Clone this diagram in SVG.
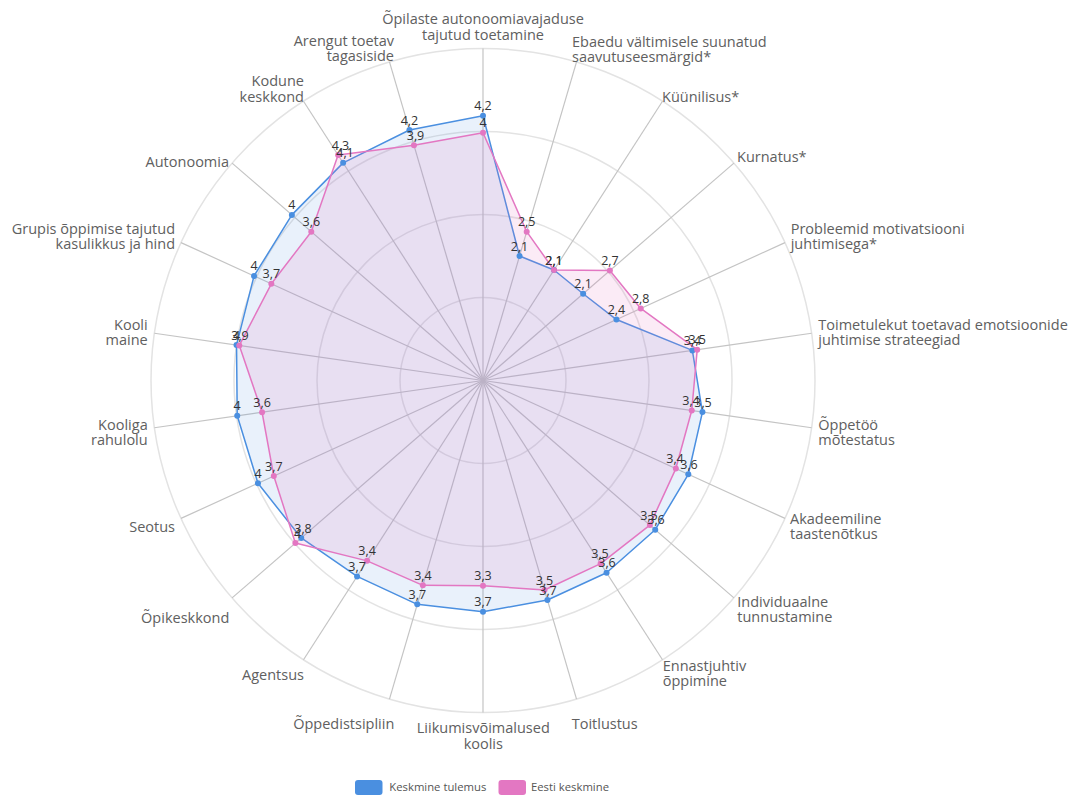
<svg xmlns="http://www.w3.org/2000/svg" width="1078" height="795" viewBox="0 0 1078 795">
<style>
.grid{fill:none;stroke:#e3e3e3;stroke-width:1.5}
.axis{stroke:#c4c4c4;stroke-width:1.2}
.lbl{font-family:"Open Sans","Liberation Sans",sans-serif;font-size:14.5px;fill:#606060}
.val{font-family:"Open Sans","Liberation Sans",sans-serif;font-size:12.5px;fill:#333;text-anchor:middle}
.leg{font-family:"Open Sans","Liberation Sans",sans-serif;font-size:11.3px;fill:#555}
.s{text-anchor:start}.e{text-anchor:end}.m{text-anchor:middle}
.blue{fill:#4a8fe0;fill-opacity:0.12;stroke:#4a8fe0;stroke-width:1.5;stroke-linejoin:round}
.pink{fill:#e377c2;fill-opacity:0.15;stroke:#e377c2;stroke-width:1.5;stroke-linejoin:round}
.bp{fill:#4a8fe0}.pp{fill:#e377c2}
</style>
<rect width="1078" height="795" fill="#fff"/>
<g id="grid">
<circle class="grid" cx="483" cy="380.5" r="83"/>
<circle class="grid" cx="483" cy="380.5" r="166"/>
<circle class="grid" cx="483" cy="380.5" r="249"/>
<circle class="grid" cx="483" cy="380.5" r="332"/>
</g>
<g id="connectors">
<line class="axis" x1="483" y1="380.5" x2="483" y2="48.5"/>
<line class="axis" x1="483" y1="380.5" x2="576.53" y2="61.95"/>
<line class="axis" x1="483" y1="380.5" x2="662.49" y2="101.2"/>
<line class="axis" x1="483" y1="380.5" x2="733.91" y2="163.09"/>
<line class="axis" x1="483" y1="380.5" x2="784.99" y2="242.58"/>
<line class="axis" x1="483" y1="380.5" x2="811.62" y2="333.25"/>
<line class="axis" x1="483" y1="380.5" x2="811.62" y2="427.75"/>
<line class="axis" x1="483" y1="380.5" x2="784.99" y2="518.42"/>
<line class="axis" x1="483" y1="380.5" x2="733.91" y2="597.91"/>
<line class="axis" x1="483" y1="380.5" x2="662.49" y2="659.8"/>
<line class="axis" x1="483" y1="380.5" x2="576.53" y2="699.05"/>
<line class="axis" x1="483" y1="380.5" x2="483" y2="712.5"/>
<line class="axis" x1="483" y1="380.5" x2="389.47" y2="699.05"/>
<line class="axis" x1="483" y1="380.5" x2="303.51" y2="659.8"/>
<line class="axis" x1="483" y1="380.5" x2="232.09" y2="597.91"/>
<line class="axis" x1="483" y1="380.5" x2="181.01" y2="518.42"/>
<line class="axis" x1="483" y1="380.5" x2="154.38" y2="427.75"/>
<line class="axis" x1="483" y1="380.5" x2="154.38" y2="333.25"/>
<line class="axis" x1="483" y1="380.5" x2="181.01" y2="242.58"/>
<line class="axis" x1="483" y1="380.5" x2="232.09" y2="163.09"/>
<line class="axis" x1="483" y1="380.5" x2="303.51" y2="101.2"/>
<line class="axis" x1="483" y1="380.5" x2="389.47" y2="61.95"/>
</g>
<g id="series-keskmine-tulemus">
<polygon class="blue" points="483,115.7 519.54,256.05 553.99,270.04 583.14,293.73 616.44,319.56 692.35,350.4 702.44,412.05 688.3,474.26 655.23,529.74 606.54,572.73 547.46,600.03 483,611.7 417.27,604.35 357.09,576.43 301.24,537.99 257.96,483.27 237.23,415.84 236.53,345.07 254.05,275.94 291.87,214.89 343.14,162.87 409.44,129.98"/>
</g>
<g id="series-eesti-keskmine">
<polygon class="pink" points="483,132.7 526.7,231.68 553.99,270.04 609.89,270.55 640.73,308.47 697.2,349.7 691.75,410.51 675.84,468.57 649.87,525.09 600.64,563.56 544.5,589.96 483,585.7 422.85,585.35 367.09,560.86 295.35,543.1 273.79,476.05 262.07,412.26 239.31,345.46 271.33,283.83 311.29,231.72 338.11,155.04 413.95,145.33"/>
</g>
<g id="points-blue" class="bp">
<circle cx="483" cy="115.7" r="3"/><circle cx="519.54" cy="256.05" r="3"/><circle cx="553.99" cy="270.04" r="3"/><circle cx="583.14" cy="293.73" r="3"/><circle cx="616.44" cy="319.56" r="3"/><circle cx="692.35" cy="350.4" r="3"/><circle cx="702.44" cy="412.05" r="3"/><circle cx="688.3" cy="474.26" r="3"/><circle cx="655.23" cy="529.74" r="3"/><circle cx="606.54" cy="572.73" r="3"/><circle cx="547.46" cy="600.03" r="3"/><circle cx="483" cy="611.7" r="3"/><circle cx="417.27" cy="604.35" r="3"/><circle cx="357.09" cy="576.43" r="3"/><circle cx="301.24" cy="537.99" r="3"/><circle cx="257.96" cy="483.27" r="3"/><circle cx="237.23" cy="415.84" r="3"/><circle cx="236.53" cy="345.07" r="3"/><circle cx="254.05" cy="275.94" r="3"/><circle cx="291.87" cy="214.89" r="3"/><circle cx="343.14" cy="162.87" r="3"/><circle cx="409.44" cy="129.98" r="3"/>
</g>
<g id="points-pink" class="pp">
<circle cx="483" cy="132.7" r="3"/><circle cx="526.7" cy="231.68" r="3"/><circle cx="553.99" cy="270.04" r="3"/><circle cx="609.89" cy="270.55" r="3"/><circle cx="640.73" cy="308.47" r="3"/><circle cx="697.2" cy="349.7" r="3"/><circle cx="691.75" cy="410.51" r="3"/><circle cx="675.84" cy="468.57" r="3"/><circle cx="649.87" cy="525.09" r="3"/><circle cx="600.64" cy="563.56" r="3"/><circle cx="544.5" cy="589.96" r="3"/><circle cx="483" cy="585.7" r="3"/><circle cx="422.85" cy="585.35" r="3"/><circle cx="367.09" cy="560.86" r="3"/><circle cx="295.35" cy="543.1" r="3"/><circle cx="273.79" cy="476.05" r="3"/><circle cx="262.07" cy="412.26" r="3"/><circle cx="239.31" cy="345.46" r="3"/><circle cx="271.33" cy="283.83" r="3"/><circle cx="311.29" cy="231.72" r="3"/><circle cx="338.11" cy="155.04" r="3"/><circle cx="413.95" cy="145.33" r="3"/>
</g>
<g id="values-blue">
<text class="val" x="483" y="110.2">4,2</text><text class="val" x="519.5" y="250.5">2,1</text><text class="val" x="554" y="264.5">2,1</text><text class="val" x="583.1" y="288.2">2,1</text><text class="val" x="616.4" y="314">2,4</text><text class="val" x="692.4" y="344.9">3,4</text><text class="val" x="703" y="406.5">3,5</text><text class="val" x="689" y="468.8">3,6</text><text class="val" x="656" y="524.2">3,6</text><text class="val" x="607" y="567.2">3,6</text><text class="val" x="548" y="594.5">3,7</text><text class="val" x="483" y="606.2">3,7</text><text class="val" x="417.3" y="598.8">3,7</text><text class="val" x="357.1" y="570.9">3,7</text><text class="val" x="303" y="532.5">3,8</text><text class="val" x="258" y="477.8">4</text><text class="val" x="237.2" y="410.3">4</text><text class="val" x="236.5" y="339.6">4</text><text class="val" x="254" y="270.4">4</text><text class="val" x="291.9" y="209.4">4</text><text class="val" x="345" y="157.4">4,1</text><text class="val" x="409.4" y="124.5">4,2</text>
</g>
<g id="values-pink">
<text class="val" x="483" y="127.2">4</text><text class="val" x="526.7" y="226.2">2,5</text><text class="val" x="554" y="264.5">2,1</text><text class="val" x="609.9" y="265">2,7</text><text class="val" x="640.7" y="303">2,8</text><text class="val" x="697.2" y="344.2">3,5</text><text class="val" x="691" y="405">3,4</text><text class="val" x="675" y="463">3,4</text><text class="val" x="649" y="519.6">3,5</text><text class="val" x="600" y="558">3,5</text><text class="val" x="544.5" y="584.5">3,5</text><text class="val" x="483" y="580.2">3,3</text><text class="val" x="422.9" y="579.9">3,4</text><text class="val" x="367.1" y="555.4">3,4</text><text class="val" x="297.5" y="537.6">4</text><text class="val" x="273.8" y="470.5">3,7</text><text class="val" x="262.1" y="406.8">3,6</text><text class="val" x="240" y="340">3,9</text><text class="val" x="271.3" y="278.3">3,7</text><text class="val" x="311.3" y="226.2">3,6</text><text class="val" x="340.5" y="149.5">4,3</text><text class="val" x="415.5" y="139.8">3,9</text>
</g>
<g id="axis-labels">
<g id="lbl-0"><text class="lbl m" x="483" y="24">Õpilaste autonoomiavajaduse</text><text class="lbl m" x="483" y="40">tajutud toetamine</text></g>
<g id="lbl-1"><text class="lbl s" x="572" y="47">Ebaedu vältimisele suunatud</text><text class="lbl s" x="572" y="61.5">saavutuseesmärgid*</text></g>
<g id="lbl-2"><text class="lbl s" x="662" y="102">Küünilisus*</text></g>
<g id="lbl-3"><text class="lbl s" x="737" y="162">Kurnatus*</text></g>
<g id="lbl-4"><text class="lbl s" x="790.7" y="234.3">Probleemid motivatsiooni</text><text class="lbl s" x="790.7" y="249.3">juhtimisega*</text></g>
<g id="lbl-5"><text class="lbl s" x="818.3" y="330">Toimetulekut toetavad emotsioonide</text><text class="lbl s" x="818.3" y="345">juhtimise strateegiad</text></g>
<g id="lbl-6"><text class="lbl s" x="818.3" y="430">Õppetöö</text><text class="lbl s" x="818.3" y="445">mõtestatus</text></g>
<g id="lbl-7"><text class="lbl s" x="790" y="524">Akadeemiline</text><text class="lbl s" x="790" y="539.3">taastenõtkus</text></g>
<g id="lbl-8"><text class="lbl s" x="737.3" y="606.7">Individuaalne</text><text class="lbl s" x="737.3" y="622.3">tunnustamine</text></g>
<g id="lbl-9"><text class="lbl s" x="662.7" y="671">Ennastjuhtiv</text><text class="lbl s" x="662.7" y="686">õppimine</text></g>
<g id="lbl-10"><text class="lbl s" x="571.7" y="729.3">Toitlustus</text></g>
<g id="lbl-11"><text class="lbl m" x="483.3" y="733.3">Liikumisvõimalused</text><text class="lbl m" x="483.3" y="749.3">koolis</text></g>
<g id="lbl-12"><text class="lbl e" x="394.3" y="729.3">Õppedistsipliin</text></g>
<g id="lbl-13"><text class="lbl e" x="304" y="680">Agentsus</text></g>
<g id="lbl-14"><text class="lbl e" x="229.3" y="622.7">Õpikeskkond</text></g>
<g id="lbl-15"><text class="lbl e" x="175" y="532.3">Seotus</text></g>
<g id="lbl-16"><text class="lbl e" x="147.7" y="430">Kooliga</text><text class="lbl e" x="147.7" y="445">rahulolu</text></g>
<g id="lbl-17"><text class="lbl e" x="147.7" y="329.5">Kooli</text><text class="lbl e" x="147.7" y="345">maine</text></g>
<g id="lbl-18"><text class="lbl e" x="175" y="234">Grupis õppimise tajutud</text><text class="lbl e" x="175" y="249">kasulikkus ja hind</text></g>
<g id="lbl-19"><text class="lbl e" x="229" y="167">Autonoomia</text></g>
<g id="lbl-20"><text class="lbl e" x="304" y="86">Kodune</text><text class="lbl e" x="304" y="101.7">keskkond</text></g>
<g id="lbl-21"><text class="lbl e" x="394" y="46">Arengut toetav</text><text class="lbl e" x="394" y="61">tagasiside</text></g>
</g>
<g id="legend">
<rect x="355" y="780" width="27.5" height="15" rx="3" fill="#4a8fe0"/>
<text class="leg" x="389.3" y="791">Keskmine tulemus</text>
<rect x="498.5" y="780" width="27.5" height="15" rx="3" fill="#e377c2"/>
<text class="leg" x="531" y="791">Eesti keskmine</text>
</g>
</svg>
